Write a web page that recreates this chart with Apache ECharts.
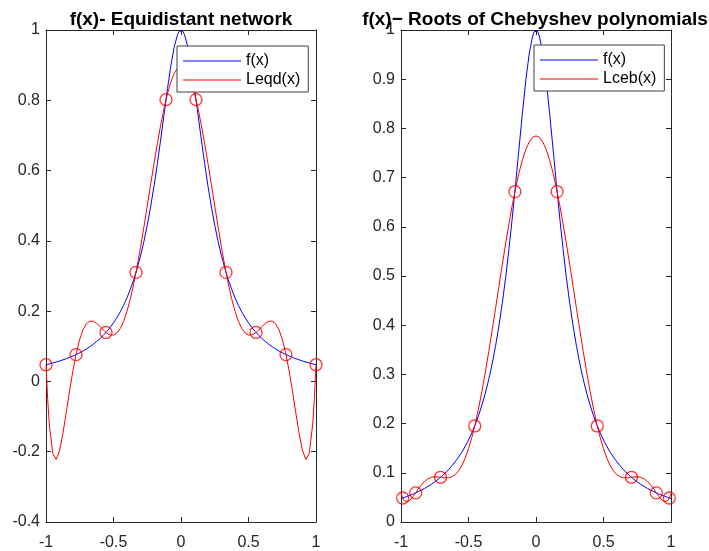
<!DOCTYPE html>
<html>
<head>
<meta charset="utf-8">
<script src="https://cdn.jsdelivr.net/npm/echarts@6/dist/echarts.min.js"></script>
<style>
html,body{margin:0;padding:0;background:#fff;}
#chart{width:709px;height:551px;}
</style>
</head>
<body>
<div id="chart"></div>
<script>
// sample abscissae
const xGrid = [-1, -0.9875, -0.975, -0.95, -0.925, -0.9, -0.875, -0.85, -0.825, -0.8, -0.775, -0.75, -0.725, -0.7, -0.675, -0.65, -0.625, -0.6, -0.575, -0.55, -0.525, -0.5, -0.475, -0.45, -0.425, -0.4, -0.375, -0.35, -0.325, -0.3, -0.275, -0.25, -0.225, -0.2, -0.175, -0.15, -0.125, -0.1, -0.075, -0.05, -0.025, -0.0125,
  0,
  0.0125, 0.025, 0.05, 0.075, 0.1, 0.125, 0.15, 0.175, 0.2, 0.225, 0.25, 0.275, 0.3, 0.325, 0.35, 0.375, 0.4, 0.425, 0.45, 0.475, 0.5, 0.525, 0.55, 0.575, 0.6, 0.625, 0.65, 0.675, 0.7, 0.725, 0.75, 0.775, 0.8, 0.825, 0.85, 0.875, 0.9, 0.925, 0.95, 0.975, 0.9875, 1];

// f(x)
const fVals = [0.0476, 0.0488, 0.0500, 0.0525, 0.0552, 0.0581, 0.0613, 0.0647, 0.0684, 0.0725, 0.0768, 0.0816, 0.0869, 0.0926, 0.0989, 0.1058, 0.1135, 0.1220, 0.1314, 0.1418, 0.1536, 0.1667, 0.1814, 0.1980, 0.2168, 0.2381, 0.2623, 0.2899, 0.3213, 0.3571, 0.3980, 0.4444, 0.4969, 0.5556, 0.6202, 0.6897, 0.7619, 0.8333, 0.8989, 0.9524, 0.9877, 0.9969,
  1.0000,
  0.9969, 0.9877, 0.9524, 0.8989, 0.8333, 0.7619, 0.6897, 0.6202, 0.5556, 0.4969, 0.4444, 0.3980, 0.3571, 0.3213, 0.2899, 0.2623, 0.2381, 0.2168, 0.1980, 0.1814, 0.1667, 0.1536, 0.1418, 0.1314, 0.1220, 0.1135, 0.1058, 0.0989, 0.0926, 0.0869, 0.0816, 0.0768, 0.0725, 0.0684, 0.0647, 0.0613, 0.0581, 0.0552, 0.0525, 0.0500, 0.0488, 0.0476];

// Leqd(x)
const leqdVals = [0.0476, -0.0516, -0.1242, -0.2047, -0.2218, -0.1974, -0.1487, -0.0884, -0.0261, 0.0318, 0.0813, 0.1202, 0.1478, 0.1645, 0.1717, 0.1713, 0.1653, 0.1562, 0.1463, 0.1377, 0.1324, 0.1320, 0.1378, 0.1507, 0.1712, 0.1996, 0.2354, 0.2783, 0.3273, 0.3814, 0.4391, 0.4992, 0.5600, 0.6198, 0.6772, 0.7305, 0.7783, 0.8193, 0.8524, 0.8768, 0.8916, 0.8954,
  0.8966,
  0.8954, 0.8916, 0.8768, 0.8524, 0.8193, 0.7783, 0.7305, 0.6772, 0.6198, 0.5600, 0.4992, 0.4391, 0.3814, 0.3273, 0.2783, 0.2354, 0.1996, 0.1712, 0.1507, 0.1378, 0.1320, 0.1324, 0.1377, 0.1463, 0.1562, 0.1653, 0.1713, 0.1717, 0.1645, 0.1478, 0.1202, 0.0813, 0.0318, -0.0261, -0.0884, -0.1487, -0.1974, -0.2218, -0.2047, -0.1242, -0.0516, 0.0476];

// Lceb(x)
const lcebVals = [0.0579, 0.0487, 0.0433, 0.0412, 0.0466, 0.0556, 0.0658, 0.0751, 0.0826, 0.0879, 0.0909, 0.0919, 0.0916, 0.0906, 0.0897, 0.0898, 0.0917, 0.0960, 0.1035, 0.1145, 0.1295, 0.1487, 0.1722, 0.1999, 0.2316, 0.2669, 0.3054, 0.3464, 0.3894, 0.4336, 0.4783, 0.5226, 0.5657, 0.6068, 0.6451, 0.6800, 0.7107, 0.7367, 0.7575, 0.7726, 0.7818, 0.7841,
  0.7849,
  0.7841, 0.7818, 0.7726, 0.7575, 0.7367, 0.7107, 0.6800, 0.6451, 0.6068, 0.5657, 0.5226, 0.4783, 0.4336, 0.3894, 0.3464, 0.3054, 0.2669, 0.2316, 0.1999, 0.1722, 0.1487, 0.1295, 0.1145, 0.1035, 0.0960, 0.0917, 0.0898, 0.0897, 0.0906, 0.0916, 0.0919, 0.0909, 0.0879, 0.0826, 0.0751, 0.0658, 0.0556, 0.0466, 0.0412, 0.0433, 0.0487, 0.0579];

// interpolation nodes
const eqNodesX = [-1, -0.7778, -0.5556, -0.3333, -0.1111, 0.1111, 0.3333, 0.5556, 0.7778, 1];
const eqNodesY = [0.0476, 0.0763, 0.1394, 0.3103, 0.8020, 0.8020, 0.3103, 0.1394, 0.0763, 0.0476];
const chebNodesX = [-0.9877, -0.8910, -0.7071, -0.4540, -0.1564, 0.1564, 0.4540, 0.7071, 0.8910, 0.9877];
const chebNodesY = [0.0488, 0.0592, 0.0909, 0.1952, 0.6714, 0.6714, 0.1952, 0.0909, 0.0592, 0.0488];

const titles = ['f(x)- Equidistant network', 'f(x)\u2212 Roots of Chebyshev polynomials'];
const legendNames = [['f(x)', 'Leqd(x)'], ['f(x)', 'Lceb(x)']];

const pairs = (xs, ys) => xs.map((x, i) => [x, ys[i]]);

const AX = '#262626';
const FONT = '"Liberation Sans", Arial, sans-serif';
const fmt = v => String(Math.round(v * 100) / 100);

function xAx(gi, pos) {
  const bottom = pos === 'bottom';
  return {
    type: 'value', gridIndex: gi, position: pos, min: -1, max: 1, interval: 0.5,
    axisLine: {show: true, onZero: false, lineStyle: {color: AX, width: 1}},
    axisTick: {show: true, inside: true, length: 5, lineStyle: {color: AX}},
    axisLabel: {show: bottom, color: AX, fontSize: 16, fontFamily: FONT, margin: 13, formatter: fmt},
    splitLine: {show: false}
  };
}
function yAx(gi, pos, min, max, interval) {
  const left = pos === 'left';
  return {
    type: 'value', gridIndex: gi, position: pos, min: min, max: max, interval: interval,
    axisLine: {show: true, onZero: false, lineStyle: {color: AX, width: 1}},
    axisTick: {show: true, inside: true, length: 5, lineStyle: {color: AX}},
    axisLabel: {show: left, color: AX, fontSize: 16, fontFamily: FONT, margin: 6, formatter: fmt},
    splitLine: {show: false}
  };
}

const chart = echarts.init(document.getElementById('chart'), null, {renderer: 'canvas'});
const lineS = (name, xi, yi, ys, color) => ({
  name: name, type: 'line', xAxisIndex: xi, yAxisIndex: yi,
  data: pairs(xGrid, ys), symbol: 'none', showSymbol: false, smooth: false,
  lineStyle: {color: color, width: 1}, itemStyle: {color: color}, animation: false, silent: true
});
const nodeS = (xi, yi, xs, ys) => ({
  name: 'nodes', type: 'scatter', xAxisIndex: xi, yAxisIndex: yi,
  data: pairs(xs, ys), symbol: 'circle', symbolSize: 12,
  itemStyle: {color: 'rgba(0,0,0,0)', borderColor: '#ff0000', borderWidth: 1.3},
  animation: false, silent: true, z: 5
});

const legendBase = {
  orient: 'vertical', itemWidth: 58, itemHeight: 16, itemGap: 3,
  icon: 'path://M0,0H58V1H0Z', symbolKeepAspect: true,
  padding: [7, 8, 4, 6], borderColor: '#404040', borderWidth: 1, backgroundColor: '#fff',
  textStyle: {fontSize: 16, fontFamily: FONT, color: '#000'}, selectedMode: false, z: 10
};

chart.setOption({
  animation: false,
  backgroundColor: '#fff',
  title: [
    {text: titles[0], left: 176, top: 5, textAlign: 'center',
     textStyle: {fontSize: 19, fontWeight: 'bold', fontFamily: FONT, color: '#000'}},
    {text: titles[1], left: 530, top: 5, textAlign: 'center',
     textStyle: {fontSize: 19, fontWeight: 'bold', fontFamily: FONT, color: '#000'}}
  ],
  grid: [
    {left: 46, top: 30, width: 270, height: 492},
    {left: 401, top: 30, width: 270, height: 492}
  ],
  xAxis: [xAx(0, 'bottom'), xAx(0, 'top'), xAx(1, 'bottom'), xAx(1, 'top')],
  yAxis: [yAx(0, 'left', -0.4, 1, 0.2), yAx(0, 'right', -0.4, 1, 0.2), yAx(1, 'left', 0, 1, 0.1), yAx(1, 'right', 0, 1, 0.1)],
  legend: [
    Object.assign({}, legendBase, {left: 177, top: 46, data: legendNames[0]}),
    Object.assign({}, legendBase, {left: 534, top: 45, data: legendNames[1]})
  ],
  series: [
    lineS('f(x)', 0, 0, fVals, '#0000ff'),
    lineS('Leqd(x)', 0, 0, leqdVals, '#ff0000'),
    nodeS(0, 0, eqNodesX, eqNodesY),
    lineS('f(x)', 2, 2, fVals, '#0000ff'),
    lineS('Lceb(x)', 2, 2, lcebVals, '#ff0000'),
    nodeS(2, 2, chebNodesX, chebNodesY)
  ]
});
</script>
</body>
</html>
